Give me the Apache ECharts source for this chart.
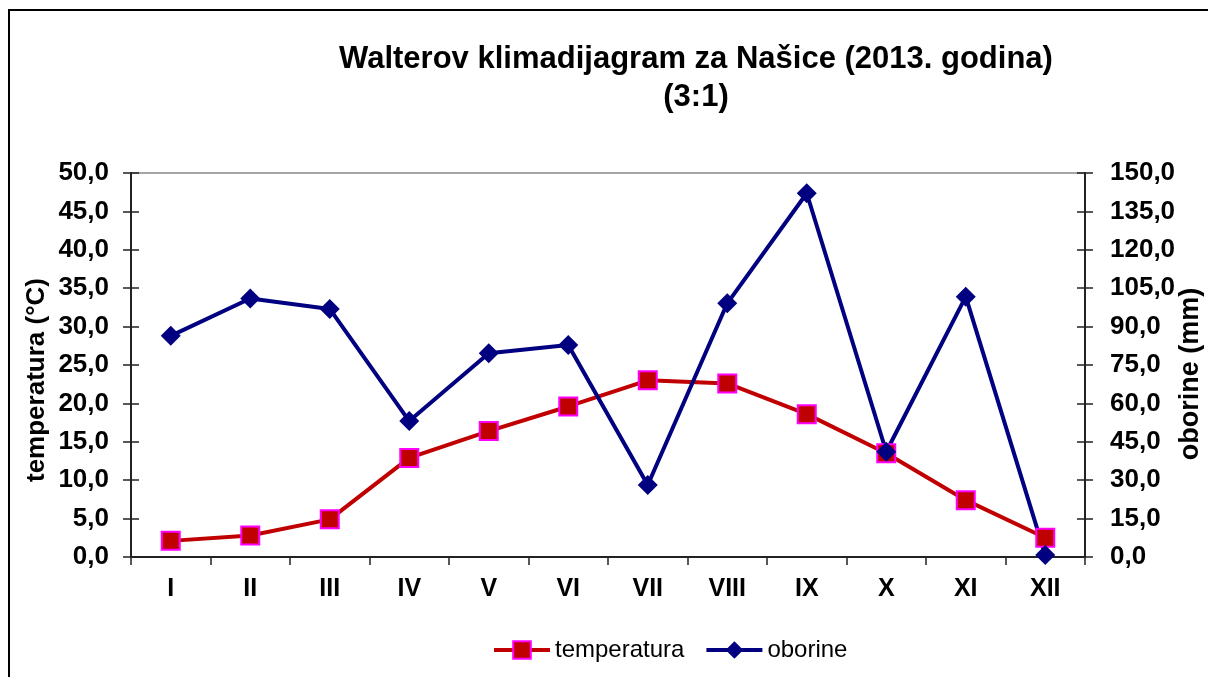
<!DOCTYPE html>
<html>
<head>
<meta charset="utf-8">
<script src="https://cdn.jsdelivr.net/npm/echarts@6/dist/echarts.min.js"></script>
<style>
  html, body { margin: 0; padding: 0; background: #fff; }
  #main { width: 1208px; height: 677px; }
</style>
</head>
<body>
<div id="main"></div>
<script>
const months = ['I', 'II', 'III', 'IV', 'V', 'VI', 'VII', 'VIII', 'IX', 'X', 'XI', 'XII']
const temperatura = [2.1, 2.8, 4.9, 12.9, 16.4, 19.6, 23.0, 22.6, 18.6, 13.5, 7.4, 2.5]
const oborine = [86.4, 101.0, 96.9, 53.1, 79.6, 82.8, 28.1, 99.1, 142.1, 41.1, 101.7, 0.8]

const chart = echarts.init(document.getElementById('main'))

const font = 'Liberation Sans, Arial, sans-serif'
const fmt = v => v.toFixed(1).replace('.', ',')
const axisColor = '#222'

// copy of an axis with ticks pointing inward, so the ticks cross the axis line
const innerTicks = (base) => Object.assign({}, base, {
  name: '',
  axisLine: { show: false },
  axisLabel: { show: false },
  axisTick: { show: true, inside: true, length: 8, lineStyle: { color: axisColor, width: 1.5 } }
})

const yTemp = {
  type: 'value',
  position: 'left',
  min: 0,
  max: 50,
  interval: 5,
  name: 'temperatura (°C)',
  nameLocation: 'middle',
  nameGap: 81,
  nameMoveOverlap: false,
  nameTextStyle: { fontFamily: font, fontWeight: 'bold', fontSize: 26, color: '#000', padding: [0, 30, 0, 0] },
  axisLine: { show: true, lineStyle: { color: axisColor, width: 2 } },
  axisTick: { show: true, length: 8, lineStyle: { color: axisColor, width: 1.5 } },
  axisLabel: { formatter: fmt, fontFamily: font, fontWeight: 'bold', fontSize: 26, color: '#000', margin: 22 },
  splitLine: { show: false }
}

const yRain = {
  type: 'value',
  position: 'right',
  min: 0,
  max: 150,
  interval: 15,
  name: 'oborine (mm)',
  nameLocation: 'middle',
  nameGap: 92,
  nameMoveOverlap: false,
  nameTextStyle: { fontFamily: font, fontWeight: 'bold', fontSize: 27, color: '#000', padding: [0, 18, 0, 0] },
  axisLine: { show: true, lineStyle: { color: axisColor, width: 2 } },
  axisTick: { show: true, length: 8, lineStyle: { color: axisColor, width: 1.5 } },
  axisLabel: { formatter: fmt, fontFamily: font, fontWeight: 'bold', fontSize: 26, color: '#000', margin: 25 },
  splitLine: { show: false }
}

const xMonths = {
  type: 'category',
  data: months,
  boundaryGap: true,
  axisLine: { show: true, lineStyle: { color: axisColor, width: 2 } },
  axisTick: { show: true, length: 8, lineStyle: { color: axisColor, width: 1.5 } },
  axisLabel: { fontFamily: font, fontWeight: 'bold', fontSize: 25, color: '#000', margin: 20 }
}

const option = {
  backgroundColor: '#fff',
  animation: false,
  graphic: [{
    type: 'rect',
    shape: { x: 9, y: 10, width: 1400, height: 900 },
    style: { fill: 'none', stroke: '#000', lineWidth: 2 },
    silent: true
  }],
  title: {
    text: 'Walterov klimadijagram za Našice (2013. godina)\n(3:1)',
    left: 691,
    top: 35,
    textAlign: 'center',
    textStyle: { fontFamily: font, fontWeight: 'bold', fontSize: 31, lineHeight: 38, color: '#000' }
  },
  legend: {
    left: 487,
    top: 633,
    itemWidth: 56,
    itemHeight: 22,
    itemGap: 20,
    textStyle: { fontFamily: font, fontSize: 24, color: '#000' },
    data: [
      { name: 'temperatura', lineStyle: { width: 4 } },
      { name: 'oborine', lineStyle: { width: 4 } }
    ]
  },
  grid: {
    left: 131,
    right: 123,
    top: 173,
    bottom: 120,
    outerBoundsMode: 'none',
    show: true,
    borderColor: '#888',
    borderWidth: 1.5
  },
  xAxis: [xMonths, innerTicks(xMonths)],
  yAxis: [yTemp, yRain, innerTicks(yTemp), innerTicks(yRain)],
  series: [
    {
      name: 'temperatura',
      type: 'line',
      xAxisIndex: 0,
      yAxisIndex: 0,
      data: temperatura,
      symbol: 'rect',
      symbolSize: 18,
      lineStyle: { color: '#c00000', width: 4 },
      itemStyle: { color: '#c00000', borderColor: '#ff00ff', borderWidth: 2 }
    },
    {
      name: 'oborine',
      type: 'line',
      xAxisIndex: 0,
      yAxisIndex: 1,
      data: oborine,
      symbol: 'diamond',
      symbolSize: 20,
      lineStyle: { color: '#000080', width: 4 },
      itemStyle: { color: '#000080', borderWidth: 0 }
    }
  ]
}

chart.setOption(option)
</script>
</body>
</html>
